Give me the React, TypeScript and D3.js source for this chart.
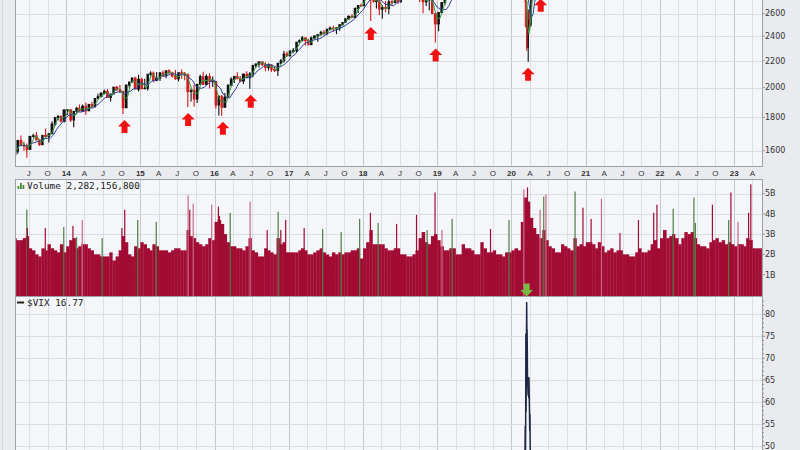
import React, { useEffect, useRef } from 'react';
import * as d3 from 'd3';

// $SPX, roughly half-monthly bars: [period end, high, low, close]
const spxBars: [string, number, number, number][] = [
  ['2013-04-30', 1598, 1570, 1597], ['2013-05-15', 1661, 1581, 1658], ['2013-05-31', 1687, 1630, 1631],
  ['2013-06-14', 1650, 1598, 1626], ['2013-06-28', 1640, 1560, 1606], ['2013-07-15', 1683, 1604, 1682],
  ['2013-07-31', 1698, 1675, 1686], ['2013-08-15', 1709, 1660, 1661], ['2013-08-30', 1664, 1627, 1633],
  ['2013-09-13', 1690, 1633, 1688], ['2013-09-30', 1730, 1675, 1682], ['2013-10-15', 1700, 1646, 1698],
  ['2013-10-31', 1775, 1698, 1757], ['2013-11-15', 1798, 1746, 1798], ['2013-11-29', 1813, 1780, 1806],
  ['2013-12-13', 1811, 1767, 1775], ['2013-12-31', 1849, 1767, 1848],
  ['2014-01-15', 1850, 1815, 1848], ['2014-01-31', 1851, 1770, 1783], ['2014-02-14', 1840, 1738, 1838],
  ['2014-02-28', 1867, 1820, 1859], ['2014-03-14', 1883, 1839, 1841], ['2014-03-31', 1883, 1839, 1872],
  ['2014-04-15', 1897, 1815, 1842], ['2014-04-30', 1885, 1840, 1884], ['2014-05-15', 1902, 1860, 1871],
  ['2014-05-30', 1925, 1862, 1924], ['2014-06-13', 1956, 1920, 1937], ['2014-06-30', 1968, 1933, 1960],
  ['2014-07-15', 1986, 1952, 1973], ['2014-07-31', 1991, 1930, 1931], ['2014-08-15', 1955, 1904, 1955],
  ['2014-08-29', 2005, 1955, 2003], ['2014-09-15', 2011, 1978, 1985], ['2014-09-30', 2019, 1964, 1972],
  ['2014-10-15', 1978, 1821, 1862], ['2014-10-31', 2018, 1862, 2018], ['2014-11-14', 2041, 2001, 2039],
  ['2014-11-28', 2075, 2040, 2068], ['2014-12-15', 2079, 1990, 1989], ['2014-12-31', 2093, 1972, 2059],
  ['2015-01-15', 2072, 1988, 1992], ['2015-01-30', 2064, 1988, 1995], ['2015-02-13', 2097, 1980, 2097],
  ['2015-02-27', 2119, 2085, 2105], ['2015-03-13', 2117, 2039, 2053], ['2015-03-31', 2114, 2045, 2068],
  ['2015-04-15', 2111, 2048, 2107], ['2015-04-30', 2125, 2077, 2086], ['2015-05-15', 2122, 2067, 2123],
  ['2015-05-29', 2135, 2100, 2107], ['2015-06-15', 2115, 2072, 2084], ['2015-06-30', 2129, 2056, 2063],
  ['2015-07-15', 2110, 2044, 2108], ['2015-07-31', 2133, 2063, 2104], ['2015-08-14', 2113, 2053, 2092],
  ['2015-08-31', 2102, 1867, 1972], ['2015-09-15', 1993, 1903, 1979], ['2015-09-30', 2021, 1871, 1920],
  ['2015-10-15', 2024, 1893, 2023], ['2015-10-30', 2094, 2020, 2079], ['2015-11-13', 2116, 2022, 2023],
  ['2015-11-30', 2097, 2020, 2080], ['2015-12-15', 2104, 1993, 2043], ['2015-12-31', 2081, 2005, 2044],
  ['2016-01-15', 2038, 1857, 1880], ['2016-01-29', 1940, 1812, 1940], ['2016-02-12', 1947, 1810, 1865],
  ['2016-02-29', 1962, 1865, 1932], ['2016-03-15', 2024, 1931, 2016], ['2016-03-31', 2075, 2019, 2060],
  ['2016-04-15', 2083, 2033, 2081], ['2016-04-29', 2111, 2060, 2065], ['2016-05-13', 2084, 2039, 2047],
  ['2016-05-31', 2103, 2025, 2097], ['2016-06-15', 2120, 2071, 2072], ['2016-06-30', 2113, 1992, 2099],
  ['2016-07-15', 2169, 2074, 2162], ['2016-07-29', 2178, 2147, 2174], ['2016-08-15', 2193, 2147, 2190],
  ['2016-08-31', 2193, 2160, 2171], ['2016-09-15', 2187, 2119, 2147], ['2016-09-30', 2180, 2124, 2168],
  ['2016-10-14', 2169, 2114, 2133], ['2016-10-31', 2156, 2114, 2126], ['2016-11-15', 2182, 2083, 2180],
  ['2016-11-30', 2214, 2172, 2199], ['2016-12-15', 2278, 2187, 2253], ['2016-12-30', 2273, 2233, 2239],
  ['2017-01-13', 2283, 2234, 2275], ['2017-01-31', 2301, 2258, 2279], ['2017-02-15', 2351, 2267, 2349],
  ['2017-02-28', 2371, 2348, 2364], ['2017-03-15', 2401, 2354, 2385], ['2017-03-31', 2391, 2322, 2363],
  ['2017-04-13', 2378, 2322, 2329], ['2017-04-28', 2398, 2328, 2384], ['2017-05-15', 2404, 2379, 2402],
  ['2017-05-31', 2418, 2353, 2412], ['2017-06-15', 2446, 2405, 2433], ['2017-06-30', 2454, 2405, 2423],
  ['2017-07-14', 2464, 2407, 2459], ['2017-07-31', 2484, 2455, 2470], ['2017-08-15', 2491, 2437, 2464],
  ['2017-08-31', 2474, 2417, 2472], ['2017-09-15', 2500, 2446, 2500], ['2017-09-29', 2519, 2493, 2519],
  ['2017-10-13', 2555, 2520, 2553], ['2017-10-31', 2582, 2544, 2575], ['2017-11-15', 2597, 2557, 2564],
  ['2017-11-30', 2657, 2566, 2648], ['2017-12-15', 2679, 2605, 2675], ['2017-12-29', 2695, 2673, 2674],
  ['2018-01-12', 2787, 2682, 2786], ['2018-01-31', 2873, 2800, 2824], ['2018-02-15', 2835, 2533, 2731],
  ['2018-02-28', 2789, 2702, 2714], ['2018-03-15', 2801, 2647, 2749], ['2018-03-29', 2762, 2586, 2641],
  ['2018-04-13', 2680, 2553, 2656], ['2018-04-30', 2718, 2612, 2648], ['2018-05-15', 2742, 2594, 2711],
  ['2018-05-31', 2742, 2676, 2705], ['2018-06-15', 2791, 2698, 2780], ['2018-06-29', 2774, 2691, 2718],
  ['2018-07-13', 2804, 2699, 2801], ['2018-07-31', 2848, 2795, 2816], ['2018-08-15', 2862, 2802, 2819],
  ['2018-08-31', 2916, 2818, 2902], ['2018-09-14', 2908, 2864, 2904], ['2018-09-28', 2941, 2898, 2914],
  ['2018-10-15', 2939, 2710, 2750], ['2018-10-31', 2817, 2603, 2712], ['2018-11-15', 2815, 2670, 2730],
  ['2018-11-30', 2760, 2631, 2760], ['2018-12-14', 2800, 2600, 2600], ['2018-12-31', 2601, 2346, 2507],
  ['2019-01-15', 2613, 2443, 2610], ['2019-01-31', 2708, 2612, 2704], ['2019-02-15', 2776, 2681, 2776],
  ['2019-02-28', 2813, 2765, 2784], ['2019-03-15', 2830, 2730, 2822], ['2019-03-29', 2861, 2785, 2834],
  ['2019-04-15', 2909, 2848, 2905], ['2019-04-30', 2950, 2900, 2946], ['2019-05-15', 2954, 2801, 2850],
  ['2019-05-31', 2892, 2750, 2752], ['2019-06-14', 2910, 2740, 2887], ['2019-06-28', 2964, 2887, 2942],
  ['2019-07-15', 3017, 2952, 3014], ['2019-07-31', 3027, 2958, 2980], ['2019-08-15', 2945, 2822, 2847],
  ['2019-08-30', 2940, 2834, 2926], ['2019-09-13', 3021, 2920, 3007], ['2019-09-30', 3021, 2952, 2977],
  ['2019-10-15', 2995, 2856, 2996], ['2019-10-31', 3050, 2994, 3038], ['2019-11-15', 3120, 3050, 3120],
  ['2019-11-29', 3154, 3091, 3141], ['2019-12-13', 3176, 3070, 3169], ['2019-12-31', 3248, 3166, 3231],
  ['2020-01-15', 3298, 3212, 3289], ['2020-01-31', 3338, 3214, 3226], ['2020-02-14', 3385, 3214, 3380],
  ['2020-02-21', 3393, 3328, 3338], ['2020-02-28', 3259, 2855, 2954], ['2020-03-06', 3136, 2901, 2972],
  ['2020-03-13', 2882, 2478, 2711], ['2020-03-20', 2614, 2280, 2305], ['2020-03-27', 2637, 2191, 2541],
  ['2020-04-03', 2641, 2447, 2489], ['2020-04-09', 2818, 2501, 2790], ['2020-04-17', 2880, 2727, 2875],
  ['2020-04-24', 2871, 2727, 2837], ['2020-05-01', 2955, 2831, 2831], ['2020-05-15', 2955, 2766, 2863],
  ['2020-05-29', 3068, 2852, 3044], ['2020-06-15', 3233, 2936, 3066], ['2020-06-30', 3155, 2999, 3100],
  ['2020-07-31', 3280, 3101, 3271], ['2020-08-31', 3514, 3284, 3500], ['2020-09-30', 3588, 3209, 3363],
  ['2020-10-30', 3550, 3233, 3270], ['2020-11-30', 3646, 3279, 3622], ['2020-12-31', 3760, 3633, 3756],
  ['2021-01-29', 3870, 3694, 3714], ['2021-02-26', 3950, 3725, 3811], ['2021-03-31', 3981, 3723, 3973],
  ['2021-04-30', 4219, 3955, 4181], ['2021-05-28', 4238, 4057, 4204], ['2021-06-30', 4302, 4165, 4298],
  ['2021-07-30', 4430, 4233, 4395], ['2021-08-31', 4537, 4368, 4523], ['2021-09-30', 4546, 4306, 4308],
  ['2021-10-29', 4608, 4279, 4605], ['2021-11-30', 4744, 4560, 4567], ['2021-12-31', 4808, 4495, 4766],
  ['2022-01-31', 4818, 4222, 4516], ['2022-02-28', 4595, 4115, 4374], ['2022-03-31', 4637, 4157, 4530],
  ['2022-04-29', 4593, 4132, 4132], ['2022-05-31', 4307, 3811, 4132], ['2022-06-30', 4177, 3637, 3785],
  ['2022-07-29', 4141, 3721, 4130], ['2022-08-31', 4325, 3955, 3955], ['2022-09-30', 4119, 3585, 3586],
  ['2022-10-31', 3905, 3491, 3872], ['2022-11-30', 4080, 3699, 4080], ['2022-12-30', 4101, 3764, 3840],
  ['2023-01-31', 4094, 3794, 4077], ['2023-02-28', 4195, 3943, 3970], ['2023-03-31', 4110, 3808, 4109],
  ['2023-04-28', 4170, 4049, 4169], ['2023-05-12', 4186, 4048, 4124],
];
const spxFirstOpen = 1578;

// volume in billions, two values per month (1st-15th, 16th-end) from April 2013
const volumeFirstMonth = '2013-04-01';
const volumeHalfMonths: number[] = [
  2.9, 2.8, 2.7, 2.7, 2.8, 2.9, 2.3, 2.2, 2.0, 1.9, 2.3, 2.2, 2.5, 2.3, 2.2, 2.1, 2.5, 2.1,
  2.4, 2.7, 2.8, 2.3, 2.4, 2.5, 2.5, 2.3, 2.2, 2.0, 2.0, 1.9, 1.9, 1.9, 2.1, 1.7, 1.9, 2.2, 2.9, 2.6, 2.0, 1.9, 2.4, 2.3,
  2.6, 2.5, 2.3, 2.2, 2.5, 2.4, 2.2, 2.2, 2.2, 2.1, 2.2, 2.3, 2.3, 2.2, 2.2, 3.2, 2.9, 2.8, 2.6, 2.5, 2.4, 2.5, 2.8, 2.7,
  3.6, 3.7, 3.5, 3.0, 2.6, 2.4, 2.4, 2.3, 2.3, 2.2, 2.4, 2.8, 2.2, 2.1, 1.9, 1.9, 2.3, 2.2, 2.1, 2.0, 2.8, 2.5, 2.6, 2.1,
  2.1, 2.1, 2.1, 2.2, 2.3, 2.2, 2.0, 2.0, 2.1, 2.2, 2.3, 2.1, 2.0, 1.9, 2.1, 2.0, 2.1, 2.0, 2.1, 2.1, 2.2, 2.2, 2.3, 1.8,
  2.3, 2.6, 3.2, 2.5, 2.5, 2.5, 2.5, 2.3, 2.2, 2.2, 2.3, 2.3, 2.0, 2.0, 1.9, 1.9, 2.0, 2.2, 2.8, 3.1, 2.6, 2.5, 2.9, 3.0,
  2.7, 2.4, 2.2, 2.2, 2.3, 2.3, 2.0, 2.0, 2.5, 2.3, 2.3, 2.2, 2.0, 2.0, 2.6, 2.3, 2.1, 2.1, 2.2, 2.0, 2.0, 1.9, 2.1, 2.1,
  2.2, 2.3, 2.2, 3.6, 4.8, 4.6, 3.8, 3.3, 3.0, 2.8, 3.2, 2.7, 2.4, 2.3, 2.1, 2.1, 2.5, 2.4, 2.3, 2.2, 2.8, 2.4, 2.5, 2.4,
  2.6, 2.6, 2.5, 2.3, 2.6, 2.4, 2.1, 2.2, 2.3, 2.1, 2.2, 2.2, 2.0, 2.0, 1.9, 1.9, 2.1, 2.3, 2.1, 2.1, 2.2, 2.5, 2.7, 2.3,
  2.8, 3.2, 2.8, 2.9, 3.0, 2.8, 2.5, 2.8, 3.1, 3.0, 3.1, 2.8, 2.5, 2.4, 2.4, 2.3, 2.6, 2.7, 2.8, 2.6, 2.7, 2.5, 2.6, 2.5,
  2.4, 2.5, 2.5, 2.4, 2.8, 2.7, 2.3, 2.3, 2.3,
];

// single heavy days: [date, billions, kind] g = up day, r = down day, p = light bar
const volumeSpikes: [string, number, string][] = [
  ['2013-06-21', 4.2, 'g'], ['2013-06-24', 3.3, 'r'], ['2013-09-20', 3.3, 'r'], ['2013-12-20', 3.35, 'g'],
  ['2014-02-03', 3.4, 'r'], ['2014-02-21', 2.85, 'g'], ['2014-03-21', 3.7, 'p'], ['2014-06-27', 2.8, 'g'],
  ['2014-10-02', 3.3, 'r'], ['2014-10-16', 4.2, 'r'], ['2014-12-19', 3.7, 'g'],
  ['2015-03-20', 3.6, 'g'], ['2015-08-24', 4.9, 'p'], ['2015-09-01', 4.2, 'r'], ['2015-09-18', 4.5, 'p'],
  ['2015-12-18', 4.45, 'p'],
  ['2016-01-20', 4.35, 'r'], ['2016-01-25', 3.9, 'r'], ['2016-03-18', 4.05, 'g'], ['2016-06-24', 4.6, 'p'],
  ['2016-09-16', 3.2, 'r'], ['2016-11-09', 4.1, 'g'], ['2016-11-22', 3.2, 'r'], ['2016-12-16', 3.7, 'r'],
  ['2017-03-17', 3.3, 'r'], ['2017-06-16', 3.25, 'g'], ['2017-09-15', 3.1, 'g'], ['2017-12-15', 3.75, 'g'],
  ['2018-02-06', 4.05, 'r'], ['2018-03-16', 3.55, 'g'], ['2018-06-15', 3.5, 'r'], ['2018-09-21', 3.95, 'r'],
  ['2018-11-12', 3.2, 'g'], ['2018-12-21', 5.05, 'r'],
  ['2019-01-24', 3.2, 'p'], ['2019-03-15', 3.75, 'g'], ['2019-09-20', 3.25, 'r'], ['2019-12-20', 3.7, 'g'],
  ['2020-03-02', 5.2, 'p'], ['2020-03-20', 5.3, 'r'], ['2020-05-21', 4.2, 'p'], ['2020-06-08', 4.85, 'g'],
  ['2020-06-19', 4.95, 'p'], ['2020-11-09', 5.1, 'g'], ['2020-12-18', 4.3, 'r'],
  ['2021-01-27', 3.75, 'r'], ['2021-03-19', 4.75, 'p'], ['2021-06-18', 3.05, 'r'], ['2021-09-17', 3.7, 'r'],
  ['2021-12-01', 4.05, 'r'], ['2021-12-17', 4.45, 'r'],
  ['2022-03-07', 4.25, 'g'], ['2022-06-17', 4.8, 'g'], ['2022-06-24', 3.55, 'g'], ['2022-09-16', 4.45, 'r'],
  ['2022-12-05', 3.7, 'g'], ['2022-12-16', 5.05, 'r'],
  ['2023-01-20', 3.6, 'p'], ['2023-03-13', 4.05, 'r'], ['2023-03-24', 5.45, 'r'],
];

// $VIX closes
const vixCloses: [string, number][] = [
  ['2013-04-24', 13.6], ['2013-05-22', 14.1], ['2013-06-20', 20.5], ['2013-07-15', 13.8], ['2013-08-30', 17.0],
  ['2013-09-30', 16.6], ['2013-10-09', 19.6], ['2013-11-15', 12.2], ['2013-12-31', 13.7],
  ['2014-02-03', 21.4], ['2014-03-31', 13.9], ['2014-04-11', 17.0], ['2014-05-30', 11.4], ['2014-07-03', 10.3],
  ['2014-07-31', 16.9], ['2014-08-29', 12.0], ['2014-09-30', 16.3], ['2014-10-15', 26.3], ['2014-10-31', 14.0],
  ['2014-11-28', 13.3], ['2014-12-16', 23.6], ['2014-12-31', 19.2],
  ['2015-01-30', 21.0], ['2015-02-27', 13.3], ['2015-03-31', 15.3], ['2015-04-30', 14.6], ['2015-05-29', 13.8],
  ['2015-06-29', 18.9], ['2015-07-31', 12.1], ['2015-08-24', 40.7], ['2015-08-31', 28.4], ['2015-09-30', 24.5],
  ['2015-10-30', 15.1], ['2015-11-30', 16.1], ['2015-12-14', 22.7], ['2015-12-31', 18.2],
  ['2016-01-20', 27.6], ['2016-02-11', 28.1], ['2016-03-31', 14.0], ['2016-04-29', 15.7], ['2016-05-31', 14.2],
  ['2016-06-27', 23.9], ['2016-07-29', 11.9], ['2016-08-31', 13.4], ['2016-09-30', 13.3], ['2016-11-04', 22.5],
  ['2016-11-30', 13.3], ['2016-12-30', 14.0],
  ['2017-01-31', 12.0], ['2017-02-28', 12.9], ['2017-03-31', 12.4], ['2017-04-13', 16.0], ['2017-05-31', 10.4],
  ['2017-06-30', 11.2], ['2017-07-31', 10.3], ['2017-08-10', 16.0], ['2017-08-31', 10.6], ['2017-09-29', 9.5],
  ['2017-10-31', 10.2], ['2017-11-30', 11.3], ['2017-12-29', 11.0],
  ['2018-01-31', 13.5], ['2018-02-05', 37.3], ['2018-02-28', 19.9], ['2018-03-23', 24.9], ['2018-04-30', 15.9],
  ['2018-05-31', 15.4], ['2018-06-29', 16.1], ['2018-07-31', 12.8], ['2018-08-31', 12.9], ['2018-09-28', 12.1],
  ['2018-10-24', 25.2], ['2018-10-31', 21.2], ['2018-11-30', 18.1], ['2018-12-24', 36.1], ['2018-12-31', 25.4],
  ['2019-01-31', 16.6], ['2019-02-28', 14.8], ['2019-03-29', 13.7], ['2019-04-30', 13.1], ['2019-05-31', 18.7],
  ['2019-06-28', 15.1], ['2019-07-31', 16.1], ['2019-08-05', 24.6], ['2019-08-30', 19.0], ['2019-09-30', 16.2],
  ['2019-10-31', 13.2], ['2019-11-29', 12.6], ['2019-12-31', 13.8],
  ['2020-01-31', 18.8], ['2020-02-14', 13.7], ['2020-02-21', 17.1], ['2020-02-27', 39.2], ['2020-03-02', 33.4],
  ['2020-03-05', 39.6], ['2020-03-06', 41.9], ['2020-03-09', 54.5], ['2020-03-10', 47.3], ['2020-03-11', 53.9],
  ['2020-03-12', 75.5], ['2020-03-13', 57.8], ['2020-03-16', 82.7], ['2020-03-17', 75.9], ['2020-03-18', 76.5],
  ['2020-03-19', 72.0], ['2020-03-20', 66.0], ['2020-03-23', 61.6], ['2020-03-24', 61.7], ['2020-03-25', 64.0],
  ['2020-03-26', 61.0], ['2020-03-27', 65.5], ['2020-03-30', 57.1], ['2020-03-31', 53.5], ['2020-04-01', 57.1],
  ['2020-04-02', 50.9], ['2020-04-03', 46.8], ['2020-04-06', 45.2], ['2020-04-09', 41.7], ['2020-04-30', 34.2],
  ['2020-05-29', 27.5], ['2020-06-11', 40.8], ['2020-06-30', 30.4], ['2020-07-31', 24.5], ['2020-08-31', 26.4],
  ['2020-09-30', 26.4], ['2020-10-30', 38.0], ['2020-11-30', 20.6], ['2020-12-31', 22.8],
  ['2021-01-27', 37.2], ['2021-02-26', 27.9], ['2021-03-31', 19.4], ['2021-04-30', 18.6], ['2021-05-28', 16.8],
  ['2021-06-30', 15.8], ['2021-07-30', 18.2], ['2021-08-31', 16.5], ['2021-09-30', 23.1], ['2021-10-29', 16.3],
  ['2021-11-30', 27.2], ['2021-12-31', 17.2],
  ['2022-01-31', 24.8], ['2022-02-28', 30.1], ['2022-03-07', 36.5], ['2022-03-31', 20.6], ['2022-04-29', 33.4],
  ['2022-05-31', 26.2], ['2022-06-30', 28.7], ['2022-07-29', 21.3], ['2022-08-31', 25.9], ['2022-09-30', 31.6],
  ['2022-10-31', 25.9], ['2022-11-30', 20.6], ['2022-12-30', 21.7],
  ['2023-01-31', 19.4], ['2023-02-28', 20.7], ['2023-03-13', 26.5], ['2023-03-31', 18.7], ['2023-04-28', 15.8],
  ['2023-05-12', 16.8],
];

// red buy-signal arrows under the lows: [date, low]
const signalArrows: [string, number][] = [
  ['2014-10-15', 1821], ['2015-08-24', 1867], ['2016-02-11', 1810], ['2016-06-27', 1992],
  ['2018-02-08', 2533], ['2018-12-24', 2346], ['2020-03-23', 2191], ['2020-05-24', 2800],
];

const priceTicks = [1600, 1800, 2000, 2200, 2400, 2600, 2800];
const volumeTicks = [1, 2, 3, 4, 5];
const vixTicks = [40, 45, 50, 55, 60, 65, 70, 75, 80, 85];
const quarterLetters = ['J', 'A', 'J', 'O'];
const volumeLegend = 'Volume 2,282,156,800';
const vixLegend = '$VIX 16.77';

const W = 800;
const H = 450;
const plotLeft = 15;
const plotRight = 762;

const App: React.FC = () => {
  const svgRef = useRef<SVGSVGElement>(null);

  useEffect(() => {
    if (!svgRef.current) return;
    const svg = d3.select(svgRef.current);
    svg.selectAll('*').remove();

    const parse = d3.timeParse('%Y-%m-%d');
    const x = d3
      .scaleTime()
      .domain([parse('2013-04-24')!, parse('2023-05-18')!])
      .range([plotLeft, plotRight]);
    const yPrice = d3.scaleLog().domain([1600, 2600]).range([150.5, 13.6]);
    const yVol = d3.scaleLinear().domain([0, 5]).range([295, 193.5]);
    const yVix = d3.scaleLinear().domain([50, 80]).range([445.7, 314.3]);

    const panels = [
      { id: 'price', top: -20, bottom: 166, ticks: priceTicks, y: (v: number) => yPrice(v) },
      { id: 'volume', top: 179, bottom: 296, ticks: volumeTicks, y: (v: number) => yVol(v) },
      { id: 'vix', top: 296, bottom: 480, ticks: vixTicks, y: (v: number) => yVix(v) },
    ];
    const fits = (yy: number) => yy - 5 >= 0 && yy + 4 <= H;

    svg.append('rect').attr('width', W).attr('height', H).attr('fill', '#e9ebef');
    svg.append('line').attr('x1', 2.5).attr('x2', 2.5).attr('y1', 0).attr('y2', H)
      .attr('stroke', '#d3d6db');

    const defs = svg.append('defs');
    const quarters = d3.timeMonth.every(3)!.range(x.domain()[0], x.domain()[1]);

    // panel backgrounds and grids
    panels.forEach((p) => {
      defs.append('clipPath').attr('id', `clip-${p.id}`)
        .append('rect').attr('x', plotLeft).attr('y', p.top)
        .attr('width', plotRight - plotLeft).attr('height', p.bottom - p.top);

      svg.append('rect').attr('x', plotLeft).attr('y', p.top)
        .attr('width', plotRight - plotLeft).attr('height', p.bottom - p.top)
        .attr('fill', '#f5f6f9');

      const grid = svg.append('g').attr('clip-path', `url(#clip-${p.id})`);
      grid.selectAll('.vgrid').data(quarters).enter().append('line')
        .attr('x1', (d) => Math.round(x(d)) + 0.5).attr('x2', (d) => Math.round(x(d)) + 0.5)
        .attr('y1', p.top).attr('y2', p.bottom)
        .attr('stroke', (d) => (d.getMonth() === 0 ? '#c3c7ce' : '#dcdfe4'));
      grid.selectAll('.hgrid').data(p.ticks).enter().append('line')
        .attr('x1', plotLeft).attr('x2', plotRight)
        .attr('y1', (d) => Math.round(p.y(d)) + 0.5).attr('y2', (d) => Math.round(p.y(d)) + 0.5)
        .attr('stroke', '#d9dce1');
    });

    // candles
    const bars = spxBars.map(([d, high, low, close], i) => ({
      start: i === 0 ? x.domain()[0] : parse(spxBars[i - 1][0])!,
      date: parse(d)!,
      high,
      low,
      close,
      open: i === 0 ? spxFirstOpen : spxBars[i - 1][3],
    }));
    const priceG = svg.append('g').attr('clip-path', 'url(#clip-price)');
    const candle = priceG.selectAll('.candle').data(bars).enter().append('g');
    const candleColor = (d: (typeof bars)[number]) => (d.close >= d.open ? '#111111' : '#d41a1a');
    const cx = (d: (typeof bars)[number]) => (x(d.start) + x(d.date)) / 2;
    const bodyW = (d: (typeof bars)[number]) => Math.max(1.3, (x(d.date) - x(d.start)) * 0.85);
    candle.append('line')
      .attr('x1', cx).attr('x2', cx)
      .attr('y1', (d) => yPrice(d.high)).attr('y2', (d) => yPrice(d.low))
      .attr('stroke', candleColor).attr('stroke-width', 1.1);
    candle.append('rect')
      .attr('x', (d) => cx(d) - bodyW(d) / 2)
      .attr('width', bodyW)
      .attr('y', (d) => Math.min(yPrice(d.open), yPrice(d.close)) - 0.5)
      .attr('height', (d) => Math.max(1.2, Math.abs(yPrice(d.open) - yPrice(d.close)) + 1))
      .attr('fill', candleColor);

    // moving averages of the closes
    const sma = (n: number) =>
      bars.map((b, i) => {
        const win = bars.slice(Math.max(0, i - n + 1), i + 1);
        return { date: b.date, value: d3.mean(win, (w) => w.close)! };
      });
    const maLine = d3.line<{ date: Date; value: number }>()
      .x((d) => x(d.date)).y((d) => yPrice(d.value));
    priceG.append('path').datum(sma(5)).attr('d', maLine)
      .attr('fill', 'none').attr('stroke', '#2c3f9e').attr('stroke-width', 1);
    priceG.append('path').datum(sma(2)).attr('d', maLine)
      .attr('fill', 'none').attr('stroke', '#2f9a3a').attr('stroke-width', 1);

    // signal arrows
    const upArrow = 'M0,0 L6.5,6.5 L3,6.5 L3,13 L-3,13 L-3,6.5 L-6.5,6.5 Z';
    priceG.selectAll('.arrow').data(signalArrows).enter().append('path')
      .attr('d', upArrow)
      .attr('transform', (d) => `translate(${x(parse(d[0])!)},${yPrice(d[1]) + 6})`)
      .attr('fill', '#f01212');

    // volume
    const volG = svg.append('g').attr('clip-path', 'url(#clip-volume)');
    const halfStart = (i: number) => {
      const m = d3.timeMonth.offset(parse(volumeFirstMonth)!, Math.floor(i / 2));
      return i % 2 === 0 ? m : d3.timeDay.offset(m, 15);
    };
    volG.selectAll('.vol').data(volumeHalfMonths).enter().append('rect')
      .attr('x', (_d, i) => x(halfStart(i)))
      .attr('width', (_d, i) => x(halfStart(i + 1)) - x(halfStart(i)) + 0.3)
      .attr('y', (d) => yVol(d))
      .attr('height', (d) => yVol(0) - yVol(d) + 2)
      .attr('fill', '#a20b34');
    const spikeColor: Record<string, string> = { g: '#4f7d45', r: '#a20b34', p: '#c96a86' };
    volG.selectAll('.spike').data(volumeSpikes).enter().append('rect')
      .attr('x', (d) => x(parse(d[0])!) - 0.6)
      .attr('width', 1.2)
      .attr('y', (d) => yVol(d[1]))
      .attr('height', (d) => yVol(0) - yVol(d[1]) + 2)
      .attr('fill', (d) => spikeColor[d[2]]);

    // VIX line
    const vix = vixCloses.map(([d, v]) => ({ date: parse(d)!, value: v }));
    const vixG = svg.append('g').attr('clip-path', 'url(#clip-vix)');
    vixG.append('path').datum(vix)
      .attr('d', d3.line<{ date: Date; value: number }>().x((d) => x(d.date)).y((d) => yVix(d.value)))
      .attr('fill', 'none').attr('stroke', '#1d2842').attr('stroke-width', 1.5)
      .attr('stroke-linejoin', 'round');

    // green arrow over the VIX peak
    const peak = vix.reduce((a, b) => (b.value > a.value ? b : a));
    svg.append('path')
      .attr('d', upArrow)
      .attr('transform', `translate(${x(peak.date)},${panels[1].bottom + 0.5}) scale(1,-1)`)
      .attr('fill', '#79b844');

    // frames
    panels.forEach((p) => {
      svg.append('rect').attr('x', plotLeft + 0.5).attr('y', p.top + 0.5)
        .attr('width', plotRight - plotLeft).attr('height', p.bottom - p.top)
        .attr('fill', 'none').attr('stroke', '#9ca1a9');
    });

    // right axes
    const axisText = (g: d3.Selection<SVGGElement, unknown, null, undefined>) =>
      g.attr('font-family', '"DejaVu Sans", Verdana, sans-serif').attr('font-size', 8).attr('fill', '#333');
    const priceAxis = svg.append('g').call(axisText);
    priceTicks.forEach((t) => {
      const yy = yPrice(t);
      priceAxis.append('line').attr('x1', plotRight).attr('x2', plotRight + 3)
        .attr('y1', yy).attr('y2', yy).attr('stroke', '#9ca1a9');
      if (fits(yy)) priceAxis.append('text').attr('x', plotRight + 3).attr('y', yy).attr('dy', '0.35em').text(t);
    });
    const volAxis = svg.append('g').call(axisText);
    volumeTicks.forEach((t) => {
      const yy = yVol(t);
      volAxis.append('line').attr('x1', plotRight).attr('x2', plotRight + 3)
        .attr('y1', yy).attr('y2', yy).attr('stroke', '#9ca1a9');
      volAxis.append('text').attr('x', plotRight + 3).attr('y', yy).attr('dy', '0.35em').text(`${t}B`);
    });
    const vixAxis = svg.append('g').call(axisText);
    d3.range(40, 86).forEach((t) => {
      const yy = yVix(t);
      if (yy < panels[2].top + 2) return;
      vixAxis.append('line').attr('x1', plotRight).attr('x2', plotRight + (t % 5 === 0 ? 3 : 2))
        .attr('y1', yy).attr('y2', yy).attr('stroke', '#8c9199');
    });
    vixTicks.forEach((t) => {
      const yy = yVix(t);
      if (yy < panels[2].top + 6 || !fits(yy)) return;
      vixAxis.append('text').attr('x', plotRight + 3).attr('y', yy).attr('dy', '0.35em').text(t);
    });

    // time labels
    const timeG = svg.append('g')
      .attr('font-family', '"Liberation Sans", Arial, sans-serif').attr('font-size', 8)
      .attr('fill', '#333').attr('text-anchor', 'middle');
    timeG.selectAll('text').data(quarters).enter().append('text')
      .attr('x', (d) => x(d)).attr('y', 176)
      .attr('font-weight', (d) => (d.getMonth() === 0 ? 'bold' : 'normal'))
      .text((d) => (d.getMonth() === 0 ? d3.timeFormat('%y')(d) : quarterLetters[d.getMonth() / 3]));

    // legends
    const legendFont = '"DejaVu Sans Mono", monospace';
    [3, 6, 4].forEach((h, i) => {
      svg.append('rect').attr('x', 17.5 + i * 2.5).attr('y', 189 - h).attr('width', 1.8).attr('height', h)
        .attr('fill', '#4d8a3c');
    });
    svg.append('text').attr('x', 27).attr('y', 189).attr('font-family', legendFont)
      .attr('font-size', 9.4).attr('fill', '#222').text(volumeLegend);
    svg.append('line').attr('x1', 17).attr('x2', 24).attr('y1', 302.5).attr('y2', 302.5)
      .attr('stroke', '#222').attr('stroke-width', 2);
    svg.append('text').attr('x', 27).attr('y', 305.5).attr('font-family', legendFont)
      .attr('font-size', 9.4).attr('fill', '#222').text(vixLegend);
  }, []);

  return (
    <>
      <style>{'body{margin:0;}'}</style>
      <svg ref={svgRef} width={W} height={H} style={{ display: 'block' }} />
    </>
  );
};

export default App;
